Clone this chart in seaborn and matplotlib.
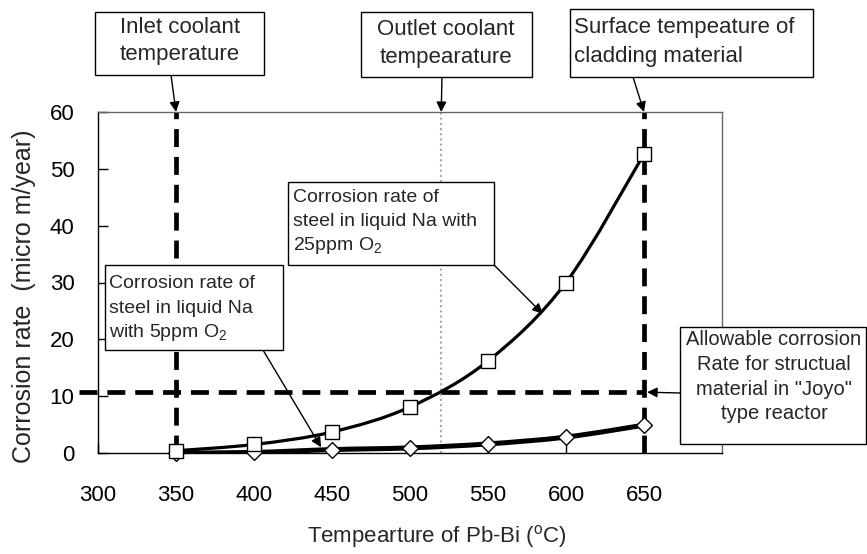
import numpy as np
import pandas as pd
import matplotlib
matplotlib.use('Agg')
import matplotlib.pyplot as plt
import seaborn as sns
from matplotlib.path import Path
from matplotlib.patches import PathPatch, Rectangle

# values
temps = [350, 400, 450, 500, 550, 600, 650]
rate_25ppm = [0.4, 1.5, 3.7, 8.1, 16.2, 30.0, 52.6]
rate_5ppm = [0.0, 0.1, 0.6, 0.9, 1.6, 2.8, 4.9]
x_ticks = [300, 350, 400, 450, 500, 550, 600, 650]
y_ticks = [0, 10, 20, 30, 40, 50, 60]

inlet_temp = 350
outlet_temp = 520
surface_temp = 650
allowable_rate = 10.7

W, H = 867, 554

sns.set_theme(style="white")
plt.rcParams['font.family'] = ['Liberation Sans', 'DejaVu Sans']
plt.rcParams['mathtext.fontset'] = 'custom'
plt.rcParams['mathtext.rm'] = 'Liberation Sans'
plt.rcParams['mathtext.it'] = 'Liberation Sans:italic'


def px(x, y):
    # pixel position (top-left origin) -> figure fraction
    return (x / W, 1 - y / H)


def smooth_path(xs, ys):
    """Excel-like smoothed line through the points (cubic Bezier pieces)"""
    pts = np.column_stack([xs, ys]).astype(float)
    ext = np.vstack([pts[0], pts, pts[-1]])
    verts = [pts[0]]
    codes = [Path.MOVETO]
    for i in range(len(pts) - 1):
        p0, p1, p2, p3 = ext[i], ext[i + 1], ext[i + 2], ext[i + 3]
        verts += [p1 + (p2 - p0) / 6, p2 - (p3 - p1) / 6, p2]
        codes += [Path.CURVE4] * 3
    return Path(verts, codes)


fig = plt.figure(figsize=(W / 100, H / 100), dpi=100)
ax = fig.add_axes([98 / W, 1 - 453 / H, 624 / W, 341 / H])

df = pd.DataFrame({'temp': temps, '25ppm': rate_25ppm, '5ppm': rate_5ppm})

# reference lines
dash = (0, (3.8, 2.1))
ax.vlines([inlet_temp, surface_temp], 0, 60, colors='black', lw=3.4,
          linestyles=[dash], zorder=2)
ax.vlines(outlet_temp, 0, 60, colors='#a8a8a8', lw=1.5,
          linestyles=[(0, (1, 1.5))], zorder=2)
ax.plot([288, surface_temp], [allowable_rate, allowable_rate], color='black',
        lw=3.4, linestyle=dash, clip_on=False, zorder=2)

# curves
ax.add_patch(PathPatch(smooth_path(df['temp'], df['5ppm']), fill=False,
                       ec='black', lw=3.6, zorder=3, capstyle='round'))
sns.scatterplot(data=df, x='temp', y='5ppm', marker='D', s=65,
                color='white', edgecolor='black', linewidth=1, ax=ax,
                zorder=4, clip_on=False)
ax.add_patch(PathPatch(smooth_path(df['temp'], df['25ppm']), fill=False,
                       ec='black', lw=2.3, zorder=5, capstyle='round'))
sns.scatterplot(data=df, x='temp', y='25ppm', marker='s', s=95,
                color='white', edgecolor='black', linewidth=1, ax=ax,
                zorder=6, clip_on=False)

ax.set_xlim(300, 700)
ax.set_ylim(0, 60)
ax.set_xticks(x_ticks)
ax.set_yticks(y_ticks)
ax.tick_params(axis='x', direction='in', length=7, width=1, pad=23,
               labelsize=16, colors='black', bottom=True)
ax.tick_params(axis='y', direction='in', length=7, width=1, pad=17,
               labelsize=16, colors='black', left=True)
for side in ['left', 'bottom']:
    ax.spines[side].set_color('black')
    ax.spines[side].set_linewidth(1)
for side in ['top', 'right']:
    ax.spines[side].set_color('#666666')
    ax.spines[side].set_linewidth(1)

ax.set_xlabel(r'Tempearture of Pb-Bi ($^{\mathrm{o}}$C)', fontsize=16)
ax.xaxis.set_label_coords(0.543, -0.205)
ax.set_ylabel('Corrosion rate  (micro m/year)', fontsize=18)
ax.yaxis.set_label_coords(-0.1, 0.46)


def note_box(x0, y0, x1, y1, lines, size, ha, tx, baselines):
    fig.add_artist(Rectangle(px(x0, y1), (x1 - x0) / W, (y1 - y0) / H,
                             transform=fig.transFigure, fc='white',
                             ec='black', lw=1.0, zorder=5))
    for line, by in zip(lines, baselines):
        fig.text(*px(tx, by), line, fontsize=size, ha=ha, va='baseline',
                 zorder=6)


def arrow(tip, start):
    ax.annotate('', xy=tip, xycoords='data', xytext=px(*start),
                textcoords='figure fraction', annotation_clip=False,
                arrowprops=dict(arrowstyle='-|>', color='black', lw=1,
                                mutation_scale=15, shrinkA=0, shrinkB=0))


arrow((inlet_temp, 60), (171, 75))
arrow((outlet_temp, 60), (442, 77))
arrow((surface_temp, 60), (633, 77))
arrow((443, 1.0), (263, 350))
arrow((585, 24.5), (494, 265))
arrow((652, allowable_rate), (680, 393))

note_box(95, 12, 264, 75, ['Inlet coolant', 'temperature'], 16, 'center',
         180, [33, 60])
note_box(361, 12, 532, 77, ['Outlet coolant', 'tempearature'], 16, 'center',
         446, [35, 63])
note_box(570, 9, 813, 77, ['Surface tempeature of', 'cladding material'], 16,
         'left', 574, [33, 62])
note_box(105, 265, 283, 350,
         ['Corrosion rate of', 'steel in liquid Na', r'with 5ppm O$_{2}$'],
         14, 'left', 109, [288, 313, 337])
note_box(288, 182, 494, 265,
         ['Corrosion rate of', 'steel in liquid Na with', r'25ppm O$_{2}$'],
         14, 'left', 293, [202, 226, 250])
note_box(680, 327, 866, 444,
         ['Allowable corrosion', 'Rate for structual',
          'material in "Joyo"', 'type reactor'],
         14.5, 'center', 774, [345, 370, 395, 419])

fig.savefig('out.png', dpi=100, facecolor='white')
